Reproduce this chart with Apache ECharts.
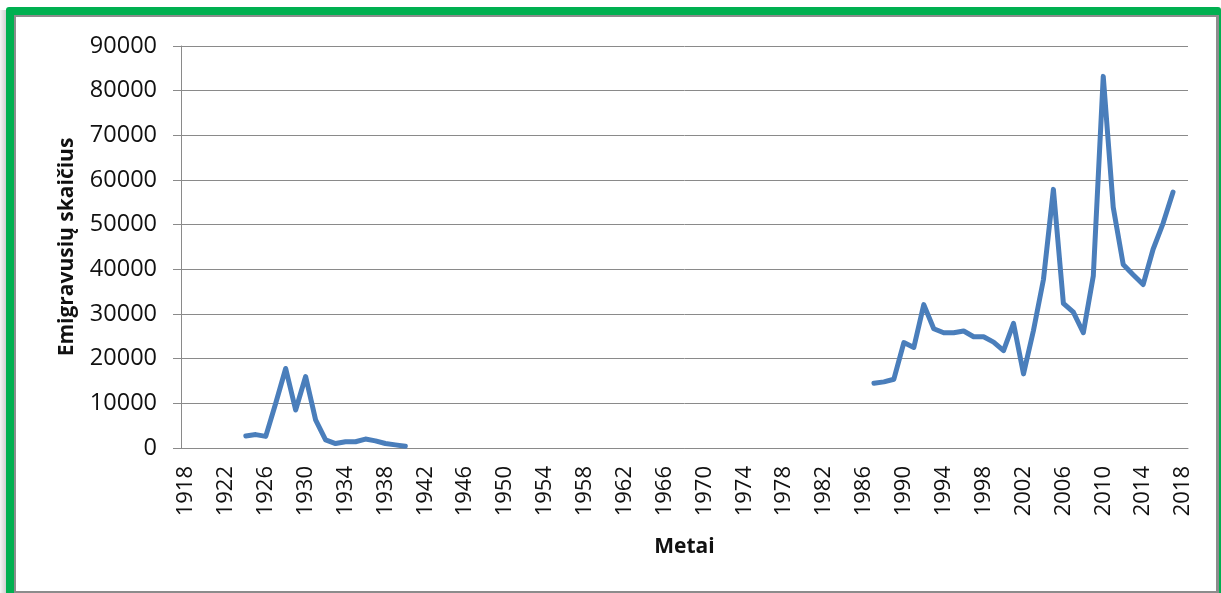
<!DOCTYPE html>
<html>
<head>
<meta charset="utf-8">
<script src="https://cdn.jsdelivr.net/npm/echarts@6/dist/echarts.min.js"></script>
<style>
  body { margin: 0; width: 1221px; height: 593px; overflow: hidden; background: #fff; }
  .shadow { position: absolute; left: 0; top: 10px; width: 6px; height: 583px;
    background: linear-gradient(to right, #f4f4f4, #d0d0d0); }
  .frame { position: absolute; left: 6px; top: 7px; width: 1215px; height: 600px;
    background: #00b050; border-radius: 3px; }
  .panel { position: absolute; left: 14px; top: 15px; width: 1200px; height: 574px;
    background: #fff; border: 2px solid #8c8c8c; border-right-width: 3px; }
  #chart { position: absolute; left: 0; top: 0; width: 1221px; height: 593px; }
</style>
</head>
<body>
<div class="shadow"></div>
<div class="frame"></div>
<div class="panel"></div>
<div id="chart"></div>
<script>
// metai (kategorijos)
const firstYear = 1918;
const lastYear = 2018;
const years = [];
for (let y = firstYear; y <= lastYear; y++) years.push(String(y));

// tarpukaris 1924–1940
const interwarStart = 1924;
const interwarValues = [2700, 3000, 2600, 10000, 17800, 8500, 16000, 6300, 1800,
  1000, 1400, 1400, 2000, 1600, 1000, 700, 400];

// 1987–2017
const modernStart = 1987;
const modernValues = [14500, 14800, 15400, 23600, 22500, 32100, 26700, 25800, 25800,
  26200, 24900, 24900, 23700, 21800, 27900, 16600, 26300, 37700, 57900, 32400,
  30400, 25800, 38500, 83200, 53900, 41100, 38800, 36600, 44500, 50300, 57300];

// sujungiam i viena eile su tarpais (null)
const lineData = years.map(() => null);
interwarValues.forEach((v, i) => { lineData[interwarStart - firstYear + i] = v; });
modernValues.forEach((v, i) => { lineData[modernStart - firstYear + i] = v; });

const font = "'Open Sans', 'Noto Sans', sans-serif";
const gray = "#8a8a8a";

const chart = echarts.init(document.getElementById("chart"));
chart.setOption({
  animation: false,
  textStyle: { fontFamily: font },
  grid: { left: 181, right: 33, top: 46, bottom: 145 },
  xAxis: {
    type: "category",
    data: years,
    boundaryGap: true,
    name: "Metai",
    nameLocation: "middle",
    nameGap: 89,
    nameTextStyle: { fontSize: 21, fontWeight: "bold", color: "#111", fontFamily: font },
    axisLine: { lineStyle: { color: gray, width: 1 } },
    axisTick: { interval: 0, length: 8, lineStyle: { color: gray } },
    axisLabel: { interval: 3, rotate: 90, margin: 18, fontSize: 22, color: "#111", fontFamily: font },
    splitLine: { show: false },
  },
  yAxis: {
    type: "value",
    min: 0,
    max: 90000,
    interval: 10000,
    name: "Emigravusių skaičius",
    nameLocation: "middle",
    nameGap: 103,
    nameTextStyle: { fontSize: 21, fontWeight: "bold", color: "#111", fontFamily: font },
    axisLine: { show: true, lineStyle: { color: gray, width: 1 } },
    axisTick: { show: true, length: 8, lineStyle: { color: gray } },
    axisLabel: { margin: 24, fontSize: 23.5, color: "#111", fontFamily: font, formatter: (v) => String(v) },
    splitLine: { lineStyle: { color: gray, width: 1 } },
  },
  series: [
    {
      type: "line",
      data: lineData,
      connectNulls: false,
      showSymbol: false,
      symbol: "none",
      lineStyle: { color: "#4a7ebb", width: 5, join: "round", cap: "round" },
      itemStyle: { color: "#4a7ebb" },
    },
  ],
});
</script>
</body>
</html>
